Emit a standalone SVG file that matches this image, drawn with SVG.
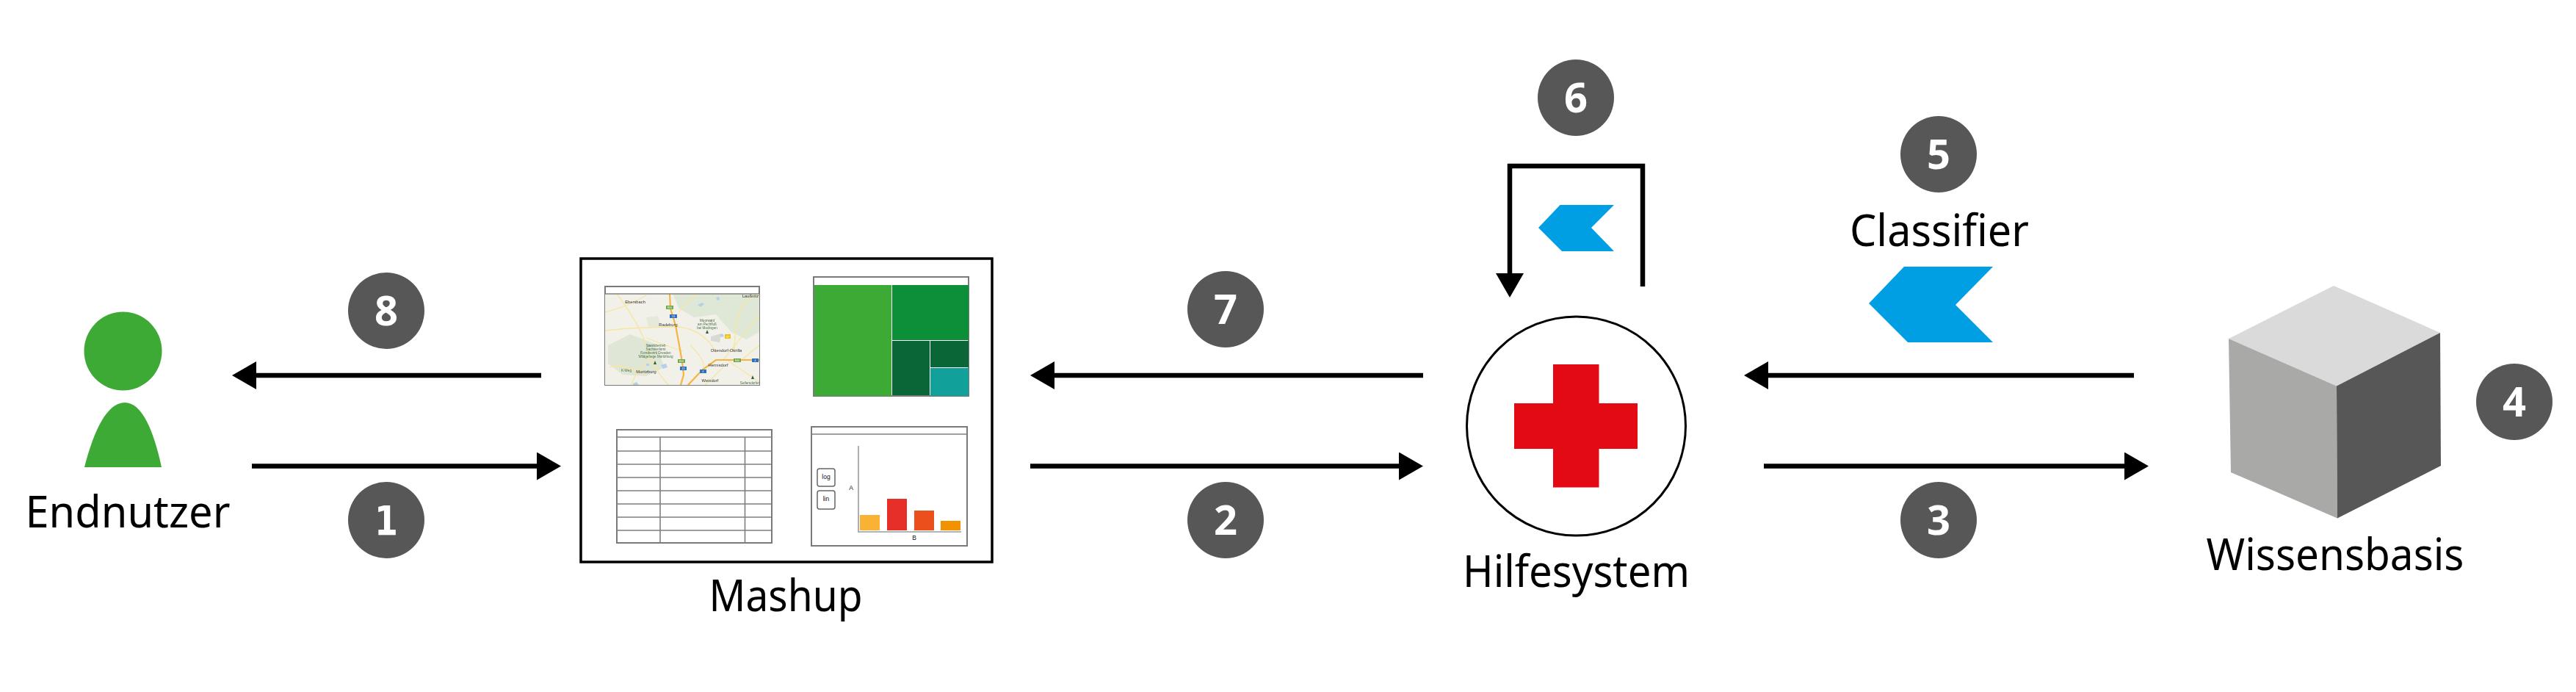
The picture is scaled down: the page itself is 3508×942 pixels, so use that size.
<svg xmlns="http://www.w3.org/2000/svg" width="3508" height="942" viewBox="0 0 3508 942">
<style>
.lbl{font-family:"Noto Sans","Open Sans",sans-serif;font-size:60px;fill:#000;text-anchor:middle}
.num{font-family:"Noto Sans","Open Sans",sans-serif;font-size:56px;font-weight:700;fill:#fff;text-anchor:middle}
.one{font-family:"DejaVu Sans",sans-serif;font-size:55px;font-weight:700;fill:#fff;text-anchor:middle}
.badge{fill:#575757}
.conn{stroke:#000;stroke-width:6.5;fill:none}
.win{fill:#fff;stroke:#7a7a7a;stroke-width:2}
.grid{stroke:#7f7f7f;stroke-width:1.6;fill:none}
.chev{fill:#009fe3}
.mt{font-family:"Liberation Sans",sans-serif;font-size:5.8px;fill:#333;text-anchor:middle}
.mg{font-family:"Liberation Sans",sans-serif;font-size:4.6px;fill:#4a6f4a;text-anchor:middle}
.mb{font-family:"Liberation Sans",sans-serif;font-size:3.5px;fill:#fff;text-anchor:middle}
.road{fill:none;stroke:#f6e6a0;stroke-width:1.3}
.hw{fill:none;stroke:#f6b440;stroke-width:2.2}
.small{font-family:"Liberation Sans",sans-serif;font-size:8.5px;fill:#111;text-anchor:middle}
</style>
<defs>
<marker id="ah" markerUnits="userSpaceOnUse" markerWidth="33" markerHeight="38" refX="0" refY="19" orient="auto"><path d="M0 0L33 19L0 38Z" fill="#000"/></marker>
<clipPath id="mapclip"><rect x="824" y="400" width="210" height="124"/></clipPath>
<filter id="soft" x="-2%" y="-2%" width="104%" height="104%"><feGaussianBlur stdDeviation="0.35"/></filter>
</defs>
<rect width="3508" height="942" fill="#fff"/>

<g id="connectors">
<line class="conn" x1="343" y1="634.500" x2="731" y2="634.500" marker-end="url(#ah)"/>
<line class="conn" x1="737" y1="511" x2="349" y2="511" marker-end="url(#ah)"/>
<line class="conn" x1="1403" y1="634.500" x2="1905" y2="634.500" marker-end="url(#ah)"/>
<line class="conn" x1="1938" y1="511" x2="1436" y2="511" marker-end="url(#ah)"/>
<line class="conn" x1="2402" y1="634.500" x2="2893" y2="634.500" marker-end="url(#ah)"/>
<line class="conn" x1="2906" y1="511" x2="2408" y2="511" marker-end="url(#ah)"/>
<path class="conn" d="M2237 390V226H2056V372" marker-end="url(#ah)"/>
</g>

<g id="endnutzer">
<ellipse cx="167.500" cy="478" rx="53" ry="53.500" fill="#3daa35"/>
<path d="M115 636C128 585 146 548 170 548C193 548 209 585 220 636Z" fill="#3daa35"/>
<text class="lbl" x="174" y="718" textLength="279" lengthAdjust="spacingAndGlyphs">Endnutzer</text>
</g>

<g id="mashup">
<rect x="791" y="352" width="560" height="413" fill="#fff" stroke="#000" stroke-width="3.500"/>
<g id="map-widget">
<rect class="win" x="824" y="390" width="210" height="134"/>
<rect x="824" y="400" width="210" height="124" fill="#f1f1ea"/>
<g clip-path="url(#mapclip)" filter="url(#soft)">
<path d="M916 400H1034V452L1016 462L996 452L975 428L945 432L925 420Z" fill="#dfe7d6"/>
<path d="M828 470L858 455L892 468L905 500L880 512L848 510L828 495Z" fill="#dfe6d5"/>
<path d="M880 432L896 430L900 444L884 447Z" fill="#e4e9dc"/>
<path d="M968 458L982 454L980 466L968 464Z" fill="#d8d8d5"/>
<path d="M824 425Q860 415 880 402M824 450Q870 445 925 445Q960 450 975 480M840 400Q870 440 880 470Q885 495 910 524M830 500Q850 495 880 510M1000 480Q1000 430 1015 410L1034 400M950 400Q930 415 925 425M1034 430Q1000 470 985 490M990 490L1034 520M985 500L960 524M1034 470L1010 490M880 460Q905 470 930 478M940 470Q960 490 958 500M860 524Q865 505 885 490" class="road"/>
<path d="M912 400L913 420L920 443L925 470L929 493L931 510L927 524" class="hw"/>
<path d="M937 524L957 503L975 490L1034 490" class="hw"/>
<path d="M950 415l6 -3l3 2l-5 4zM975 405l4 -1l1 4l-3 1zM881 470l4 -1l0 3l-3 1zM900 497l7 -2l2 5l-6 2zM880 495l4 0l0 3l-4 0zM980 456l4 -2l2 4l-4 1zM862 522l5 -2l3 4l-8 0z" fill="#b5cfee"/>
<path d="M963 449l-2 5h4zM892 491l-2 5h4zM1025 511l-2 5h4z" fill="#2f5f3a"/>
<rect x="907" y="416" width="10" height="5" fill="#6fa84a"/><text class="mb" x="912" y="420">E55</text>
<rect x="912" y="428" width="10" height="5" fill="#2f6fbe"/><text class="mb" x="917" y="432">13</text>
<rect x="987" y="455" width="8" height="6" fill="#f2c21b"/><text class="mb" x="991" y="459.500">97</text>
<rect x="999" y="488" width="10" height="5" fill="#6fa84a"/><text class="mb" x="1004" y="492">E40</text>
<rect x="1024" y="488" width="9" height="5" fill="#2f6fbe"/><text class="mb" x="1028.500" y="492">4</text>
<rect x="923" y="489" width="10" height="5" fill="#6fa84a"/><text class="mb" x="928" y="493">E55</text>
<rect x="926" y="499" width="9" height="5" fill="#2f6fbe"/><text class="mb" x="930.500" y="503">13</text>
<rect x="953" y="503" width="9" height="5" fill="#2f6fbe"/><text class="mb" x="957.500" y="507">4</text>
<text class="mt" x="865" y="413">Ebersbach</text>
<text class="mt" x="1022" y="405">Laußnitz</text>
<text class="mt" x="910" y="444">Radeburg</text>
<text class="mg" x="963" y="438">Moorwald</text>
<text class="mg" x="963" y="443">am Pechfluß</text>
<text class="mg" x="963" y="448">bei Medingen</text>
<text class="mg" x="893" y="472">Staatsbetrieb</text>
<text class="mg" x="893" y="477">Sachsenforst</text>
<text class="mg" x="893" y="482">Forstbezirk Dresden</text>
<text class="mg" x="893" y="487">Wildgehege Moritzburg</text>
<text class="mt" x="989" y="479">Ottendorf-Okrilla</text>
<text class="mt" x="978" y="499">Hermsdorf</text>
<text class="mt" x="967" y="520">Weixdorf</text>
<text class="mt" x="880" y="508">Moritzburg</text>
<text class="mg" x="1021" y="523">Seifersdorfer</text>
<text class="mg" x="853" y="506">K-Weg</text>
</g>
<line class="grid" x1="824" y1="400" x2="1034" y2="400"/>
</g>

<g id="treemap-widget">
<rect class="win" x="1108" y="377" width="211" height="162"/>
<rect x="1109" y="388" width="105" height="151" fill="#3daa35"/>
<rect x="1215" y="388" width="104" height="75" fill="#0b8f38"/>
<rect x="1215" y="464" width="51" height="74" fill="#0a6637"/>
<rect x="1267" y="464" width="52" height="36" fill="#0a6637"/>
<rect x="1267" y="501" width="52" height="38" fill="#12a19a"/>
</g>

<g id="table-widget">
<rect class="win" x="840" y="585" width="211" height="154"/>
<path class="grid" d="M840 595H1051M840 614H1051M840 632H1051M840 650H1051M840 668H1051M840 686H1051M840 704H1051M840 722H1051M899 595V739M1014.500 595V739"/>
</g>

<g id="chart-widget">
<rect class="win" x="1105" y="581" width="212" height="162" stroke="#606060"/>
<line class="grid" x1="1105" y1="591" x2="1317" y2="591"/>
<rect x="1113" y="638" width="24" height="24" rx="3" fill="#fff" stroke="#666" stroke-width="1.500"/>
<rect x="1113" y="668" width="24" height="25" rx="3" fill="#fff" stroke="#666" stroke-width="1.500"/>
<text class="small" x="1125" y="652">log</text>
<text class="small" x="1125" y="682">lin</text>
<text class="small" x="1159" y="667">A</text>
<text class="small" x="1245" y="735">B</text>
<path d="M1169 607V724H1309" fill="none" stroke="#9a9a9a" stroke-width="1.600"/>
<rect x="1171" y="701" width="27" height="21" fill="#f9b233"/>
<rect x="1208" y="679" width="27" height="43" fill="#e52f28"/>
<rect x="1245" y="695" width="27" height="27" fill="#ea4f1c"/>
<rect x="1281" y="709" width="27" height="13" fill="#f39200"/>
</g>
<text class="lbl" x="1070" y="832" textLength="209" lengthAdjust="spacingAndGlyphs">Mashup</text>
</g>

<g id="hilfesystem">
<circle cx="2146.500" cy="580" r="149" fill="#fff" stroke="#000" stroke-width="3"/>
<path d="M2115 496H2177.500V549H2230V611H2177.500V663.500H2115V611H2062V549H2115Z" fill="#e30a14"/>
<text class="lbl" x="2146.500" y="799" textLength="309" lengthAdjust="spacingAndGlyphs">Hilfesystem</text>
</g>

<g id="classifier-loop"><path class="chev" d="M2095 310L2124.500 279H2198L2167 310L2198 342H2127Z"/></g>
<g id="classifier">
<text class="lbl" x="2641" y="335" textLength="244" lengthAdjust="spacingAndGlyphs">Classifier</text>
<path class="chev" d="M2545 413L2593 363H2714L2663 415L2714 466H2598Z"/>
</g>

<g id="wissensbasis">
<path d="M3178 389L3323 453L3182 525.500L3035 461Z" fill="#dadada"/>
<path d="M3035 461L3182 525.500L3183 705.500L3038 643Z" fill="#a9a9a7"/>
<path d="M3182 525.500L3323 453L3324 634L3183 705.500Z" fill="#575757"/>
<text class="lbl" x="3180" y="776" textLength="351" lengthAdjust="spacingAndGlyphs">Wissensbasis</text>
</g>

<g id="badges">
<g id="b1"><circle class="badge" cx="526" cy="708" r="52"/><text class="one" x="526" y="728" textLength="32" lengthAdjust="spacingAndGlyphs">1</text></g>
<g id="b2"><circle class="badge" cx="1669" cy="708" r="52"/><text class="num" x="1669" y="728">2</text></g>
<g id="b3"><circle class="badge" cx="2640" cy="708" r="52"/><text class="num" x="2640" y="728">3</text></g>
<g id="b4"><circle class="badge" cx="3424" cy="547" r="52"/><text class="num" x="3424" y="567">4</text></g>
<g id="b5"><circle class="badge" cx="2640" cy="210" r="52"/><text class="num" x="2640" y="230">5</text></g>
<g id="b6"><circle class="badge" cx="2146" cy="133" r="52"/><text class="num" x="2146" y="153">6</text></g>
<g id="b7"><circle class="badge" cx="1669" cy="421" r="52"/><text class="num" x="1669" y="441">7</text></g>
<g id="b8"><circle class="badge" cx="526" cy="423" r="52"/><text class="num" x="526" y="443">8</text></g>
</g>
</svg>
